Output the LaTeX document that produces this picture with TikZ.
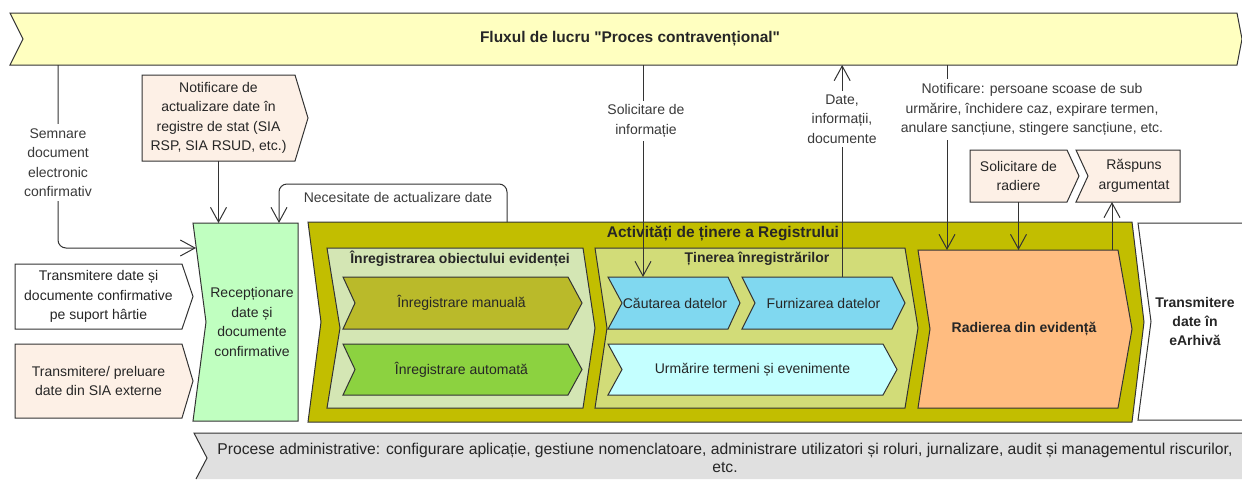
\documentclass[tikz,border=0pt]{standalone}
\usepackage{fontspec}
\setmainfont{Liberation Sans}[Ligatures=TeXOff]
\usetikzlibrary{arrows.meta, calc}
\pgfdeclarelayer{back}
\pgfsetlayers{back,main}
\definecolor{fluxYellow}{HTML}{FFFFC0}
\definecolor{peach}{HTML}{FDF0E6}
\definecolor{recepGreen}{HTML}{C0FFC0}
\definecolor{olive}{HTML}{C2BE00}
\definecolor{inregGreen}{HTML}{D4E6B4}
\definecolor{tinereGreen}{HTML}{D2DC78}
\definecolor{manualOlive}{HTML}{BABA2A}
\definecolor{autoGreen}{HTML}{8CD240}
\definecolor{searchBlue}{HTML}{80D8F0}
\definecolor{trackCyan}{HTML}{C4FFFF}
\definecolor{radOrange}{HTML}{FFBC80}
\definecolor{adminGray}{HTML}{E0E0E0}
\definecolor{lineGray}{HTML}{333333}
\definecolor{txtGray}{HTML}{262626}
\definecolor{lblGray}{HTML}{3A3A3A}

\tikzset{
  boxline/.style={draw=lineGray, line width=0.75pt},
  shapebox/.style 2 args={minimum width=#1*0.75pt, minimum height=#2*0.75pt,
    inner sep=0pt, outer sep=0pt, align=center, text=txtGray,
    font=\fontsize{10.5}{14.6}\selectfont},
  boldbox/.style 2 args={shapebox={#1}{#2}, font=\fontsize{10.5}{14.6}\selectfont\bfseries},
  title/.style={text=txtGray, font=\fontsize{10.5}{14.6}\selectfont\bfseries},
  lbl/.style={fill=white, inner sep=3pt, align=center, text=lblGray,
    font=\fontsize{10.5}{14.6}\selectfont},
  conn/.style={draw=lineGray, line width=0.75pt, -{Straight Barb[length=11pt, width=12pt]}},
}

% chevron behind a node: node, fill, notch depth, tip depth
\newcommand{\drawchev}[4]{%
  \begin{pgfonlayer}{back}
    \draw[boxline, fill=#2] ($(#1.north west)+(-#3,0)$) -- (#1.north east) -- ($(#1.east)+(#4,0)$)
      -- (#1.south east) -- ($(#1.south west)+(-#3,0)$) -- (#1.west) -- cycle;
  \end{pgfonlayer}}

\begin{document}
\begin{tikzpicture}[x=0.75pt, y=-0.75pt]
  \useasboundingbox (0,0) rectangle (1242,479);

  % workflow banner
  \node[boldbox={1214}{52}, font=\fontsize{11.6}{14.6}\selectfont\bfseries] (flux) at (630,39) {Fluxul de lucru "Proces contravențional"};
  \drawchev{flux}{fluxYellow}{13}{5}

  % inputs on the left
  \node[shapebox={153}{86}] (notif) at (218.5,118) {Notificare de\\actualizare date în\\registre de stat (SIA\\RSP, SIA RSUD, etc.)};
  \drawchev{notif}{peach}{0}{13}
  \node[shapebox={167}{65}] (hartie) at (98.5,296.5) {Transmitere date și\\documente confirmative\\pe suport hârtie};
  \drawchev{hartie}{white}{0}{11}
  \node[shapebox={167}{74}] (extern) at (98.5,381) {Transmitere/ preluare\\date din SIA externe};
  \drawchev{extern}{peach}{0}{11}
  \node[shapebox={92}{198}] (recep) at (252,322) {Recepționare\\date și\\documente\\confirmative};
  \drawchev{recep}{recepGreen}{13}{0}

  % register activities
  \node[shapebox={811}{200}] (act) at (726.5,322) {};
  \drawchev{act}{olive}{13}{12}
  \node[title, font=\fontsize{11.6}{14.6}\selectfont\bfseries] (actT) at (723,234) {Activități de ținere a Registrului};

  \node[shapebox={243}{160}] (inreg) at (461.5,328) {};
  \drawchev{inreg}{inregGreen}{13}{12}
  \node[title] (inregT) at (460,259) {Înregistrarea obiectului evidenței};
  \node[shapebox={213}{52}] (manual) at (461.5,303) {Înregistrare manuală};
  \drawchev{manual}{manualOlive}{12}{14}
  \node[shapebox={213}{51}] (automat) at (461.5,369.5) {Înregistrare automată};
  \drawchev{automat}{autoGreen}{12}{14}

  \node[shapebox={298}{160}] (tinere) at (756,328) {};
  \drawchev{tinere}{tinereGreen}{12}{13}
  \node[title] (tinereT) at (757,259) {Ținerea înregistrărilor};
  \node[shapebox={106}{52}] (cautare) at (675,303) {Căutarea datelor};
  \drawchev{cautare}{searchBlue}{14}{12}
  \node[shapebox={137}{52}] (furniz) at (823.5,303) {Furnizarea datelor};
  \drawchev{furniz}{searchBlue}{13}{13}
  \node[shapebox={261}{51}] (urmar) at (752.5,369.5) {Urmărire termeni și evenimente};
  \drawchev{urmar}{trackCyan}{14}{14}

  \node[boldbox={188}{158}] (radier) at (1024,329) {Radierea din evidență};
  \drawchev{radier}{radOrange}{12}{14}

  % removal request and answer
  \node[shapebox={97}{52}] (radsol) at (1018.5,176) {Solicitare de\\radiere};
  \drawchev{radsol}{peach}{0}{12}
  \node[shapebox={92}{52}] (rasp) at (1134,176) {Răspuns\\argumentat};
  \drawchev{rasp}{peach}{12}{0}

  % archive, open on the right
  \node[boldbox={88}{197}] (earhiva) at (1195,321.5) {Transmitere\\date în\\eArhivă};
  \begin{pgfonlayer}{back}
    \fill[white] (1242,223) -- (1138,223) -- (earhiva.west) -- (1138,420) -- (1242,420) -- cycle;
    \draw[boxline] (1242,223) -- (1138,223) -- (earhiva.west) -- (1138,420) -- (1242,420);
  \end{pgfonlayer}

  % administrative processes, open on the right and bottom
  \node[shapebox={1035}{46}, font=\fontsize{11.75}{13.5}\selectfont] (admin) at (725,458) {Procese administrative: configurare aplicație, gestiune nomenclatoare, administrare utilizatori și roluri, jurnalizare, audit și managementul riscurilor,\\etc.};
  \begin{pgfonlayer}{back}
    \fill[adminGray] (1242,433) -- (194,433) -- (207,458) -- (196,479) -- (1242,479) -- cycle;
    \draw[boxline] (1242,433) -- (194,433) -- (207,458) -- (196,479);
  \end{pgfonlayer}

  % connectors
  \coordinate (semEnd) at (196,248);
  \coordinate (semCorner) at (58,248);
  \draw[conn, rounded corners=6pt] (flux.south -| semCorner) -- (semCorner) -- (semEnd);
  \node[lbl] (semlbl) at (58,162.5) {Semnare\\document\\electronic\\confirmativ};

  \draw[conn] (notif.south) -- (notif.south |- recep.north);

  \coordinate (nec1) at (507,184);
  \coordinate (nec2) at (279,184);
  \draw[conn, rounded corners=6pt] (act.north -| nec1) -- (nec1) -- (nec2) -- (recep.north -| nec2);
  \node[lbl, fill=none] (neclbl) at (398,197) {Necesitate de actualizare date};

  \coordinate (infoEnd) at ([xshift=-24pt]cautare.north);
  \draw[conn] (flux.south -| infoEnd) -- (infoEnd);
  \node[lbl] (infolbl) at (646,121) {Solicitare de\\informație};

  \coordinate (dateStart) at ([xshift=14pt]furniz.north);
  \draw[conn] (dateStart) -- (dateStart |- flux.south);
  \node[lbl] (datelbl) at (842,119) {Date,\\informații,\\documente};

  \coordinate (notEnd) at ([xshift=-57.75pt]radier.north);
  \draw[conn] (flux.south -| notEnd) -- (notEnd);
  \node[lbl] (notlbl) at (1032,109.5) {Notificare: persoane scoase de sub\\urmărire, închidere caz, expirare termen,\\anulare sancțiune, stingere sancțiune, etc.};

  \draw[conn] (radsol.south) -- (radsol.south |- radier.north);
  \coordinate (raspEnd) at ([xshift=-16.5pt]rasp.south);
  \draw[conn] (raspEnd |- radier.north) -- (raspEnd);
\end{tikzpicture}
\end{document}
